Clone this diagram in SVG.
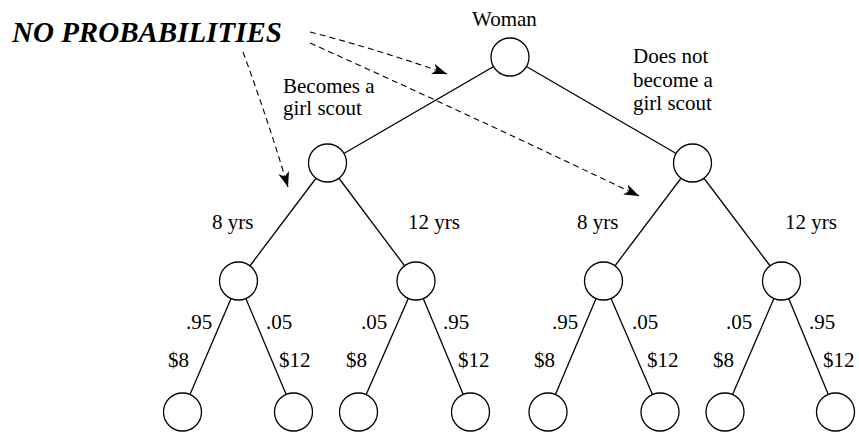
<svg xmlns="http://www.w3.org/2000/svg" width="859" height="432" viewBox="0 0 859 432">
<style>
.n{fill:#fff;stroke:#000;stroke-width:1.3}
.e{stroke:#000;stroke-width:1.3;fill:none}
.d{stroke:#000;stroke-width:1.1;fill:none;stroke-dasharray:6,4}
text{font-family:'Liberation Serif','Times New Roman',serif;font-size:21px;fill:#000}
.big{font-size:29px;font-weight:bold;font-style:italic}
</style>
<defs>
<marker id="ah" markerUnits="userSpaceOnUse" markerWidth="17" markerHeight="13" refX="15" refY="5.5" orient="auto">
<path d="M0,0 L15,5.5 L0,11 L4,5.5 z" fill="#000"/>
</marker>
</defs>
<rect width="859" height="432" fill="#fff"/>
<g id="connectors">
<line class="e" x1="510" y1="57" x2="327.5" y2="163"/>
<line class="e" x1="510" y1="57" x2="692.5" y2="163"/>
<line class="e" x1="327.5" y1="163" x2="238.5" y2="281"/>
<line class="e" x1="327.5" y1="163" x2="416" y2="281"/>
<line class="e" x1="692.5" y1="163" x2="603.5" y2="281"/>
<line class="e" x1="692.5" y1="163" x2="781.5" y2="281"/>
<line class="e" x1="238.5" y1="281" x2="182.5" y2="412"/>
<line class="e" x1="238.5" y1="281" x2="293.5" y2="412"/>
<line class="e" x1="416" y1="281" x2="358.5" y2="412"/>
<line class="e" x1="416" y1="281" x2="470.5" y2="412"/>
<line class="e" x1="603.5" y1="281" x2="548" y2="412"/>
<line class="e" x1="603.5" y1="281" x2="660" y2="412"/>
<line class="e" x1="781.5" y1="281" x2="725" y2="412"/>
<line class="e" x1="781.5" y1="281" x2="835.5" y2="412"/>
<path class="d" d="M243,52 Q268,120 288,187" marker-end="url(#ah)"/>
<path class="d" d="M310,32 Q380,50 447,74" marker-end="url(#ah)"/>
<path class="d" d="M310,43 Q470,115 639,196" marker-end="url(#ah)"/>
</g>
<g id="root"><circle class="n" cx="510" cy="57" r="19"/><text x="472" y="26">Woman</text></g>
<g id="scout"><circle class="n" cx="327.5" cy="163" r="19"/></g>
<g id="noscout"><circle class="n" cx="692.5" cy="163" r="19"/></g>
<g id="s8"><circle class="n" cx="238.5" cy="281" r="19"/></g>
<g id="s12"><circle class="n" cx="416" cy="281" r="19"/></g>
<g id="n8"><circle class="n" cx="603.5" cy="281" r="19"/></g>
<g id="n12"><circle class="n" cx="781.5" cy="281" r="19"/></g>
<g id="leaf1"><circle class="n" cx="182.5" cy="412" r="19"/></g>
<g id="leaf2"><circle class="n" cx="293.5" cy="412" r="19"/></g>
<g id="leaf3"><circle class="n" cx="358.5" cy="412" r="19"/></g>
<g id="leaf4"><circle class="n" cx="470.5" cy="412" r="19"/></g>
<g id="leaf5"><circle class="n" cx="548" cy="412" r="19"/></g>
<g id="leaf6"><circle class="n" cx="660" cy="412" r="19"/></g>
<g id="leaf7"><circle class="n" cx="725" cy="412" r="19"/></g>
<g id="leaf8"><circle class="n" cx="835.5" cy="412" r="19"/></g>
<g id="labels">
<text class="big" x="12" y="42">NO PROBABILITIES</text>
<text x="283" y="92.5">Becomes a</text>
<text x="283" y="115">girl scout</text>
<text x="633" y="63">Does not</text>
<text x="633" y="86.5">become a</text>
<text x="633" y="110">girl scout</text>
<text x="212" y="229">8 yrs</text>
<text x="408" y="229">12 yrs</text>
<text x="577" y="229">8 yrs</text>
<text x="785" y="229">12 yrs</text>
<text x="186" y="329">.95</text>
<text x="266" y="329">.05</text>
<text x="168" y="367">$8</text>
<text x="279" y="367">$12</text>
<text x="361" y="329">.05</text>
<text x="443" y="329">.95</text>
<text x="346" y="367">$8</text>
<text x="458" y="367">$12</text>
<text x="552" y="329">.95</text>
<text x="632" y="329">.05</text>
<text x="534" y="367">$8</text>
<text x="647" y="367">$12</text>
<text x="726" y="329">.05</text>
<text x="809" y="329">.95</text>
<text x="713" y="367">$8</text>
<text x="823" y="367">$12</text>
</g>
</svg>
